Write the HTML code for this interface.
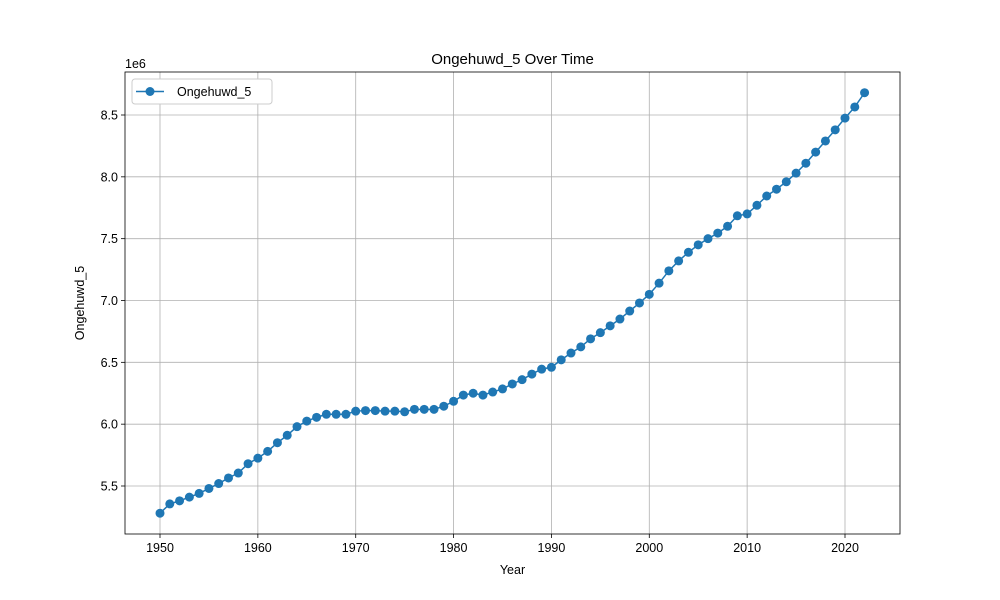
<!DOCTYPE html>
<html><head><meta charset="utf-8"><style>
html,body{margin:0;padding:0;background:#fff;}
svg{display:block;font-family:"Liberation Sans","DejaVu Sans",sans-serif;}
</style></head><body>
<svg id="chart" width="1000" height="600" viewBox="0 0 1000 600" xmlns="http://www.w3.org/2000/svg"></svg>
<script>
const years = [];
for (let y = 1950; y <= 2022; y++) years.push(y);
const values = [5.28,5.355,5.38,5.41,5.44,5.48,5.52,5.565,5.605,5.68,5.725,5.78,5.85,5.91,5.98,6.025,6.055,6.08,6.08,6.08,6.105,6.11,6.11,6.105,6.105,6.10,6.12,6.12,6.12,6.145,6.185,6.235,6.25,6.235,6.26,6.285,6.325,6.36,6.405,6.445,6.46,6.52,6.575,6.625,6.69,6.74,6.795,6.85,6.915,6.98,7.05,7.14,7.24,7.32,7.39,7.45,7.50,7.545,7.60,7.685,7.70,7.77,7.845,7.90,7.96,8.03,8.11,8.20,8.29,8.38,8.475,8.565,8.68];
const xTicks = [1950,1960,1970,1980,1990,2000,2010,2020];
const yTicks = [5.5,6.0,6.5,7.0,7.5,8.0,8.5];
const yTickLabels = ["5.5","6.0","6.5","7.0","7.5","8.0","8.5"];

const L=125,R=900,T=72,B=534;
const NS="http://www.w3.org/2000/svg";
const svg=document.getElementById('chart');
function xs(v){return 160+(v-1950)*(845-160)/70;}
function ys(v){return 486-(v-5.5)*(486-115)/3;}
function mk(tag,attrs,parent){const e=document.createElementNS(NS,tag);for(const k in attrs)e.setAttribute(k,attrs[k]);(parent||svg).appendChild(e);return e;}

const grid=mk('g',{});


xTicks.forEach(t=>{mk('line',{x1:xs(t),x2:xs(t),y1:T,y2:B,stroke:'#b0b0b0','stroke-width':0.8},grid);});
yTicks.forEach(t=>{mk('line',{x1:L,x2:R,y1:ys(t),y2:ys(t),stroke:'#b0b0b0','stroke-width':0.8},grid);});

const xa=mk('g',{});


xTicks.forEach(t=>{
  mk('line',{x1:xs(t),x2:xs(t),y1:B,y2:B+4,stroke:'#000','stroke-width':0.8},xa);
  const tx=mk('text',{x:xs(t),y:B+18,'text-anchor':'middle','font-size':12.5},xa);tx.textContent=t;
});
const ya=mk('g',{});


yTicks.forEach((t,i)=>{
  mk('line',{x1:L-4,x2:L,y1:ys(t),y2:ys(t),stroke:'#000','stroke-width':0.8},ya);
  const tx=mk('text',{x:L-7,y:ys(t)+4.5,'text-anchor':'end','font-size':12.5},ya);tx.textContent=yTickLabels[i];
});
const off=mk('text',{x:125,y:68,'font-size':12.5});off.textContent='1e6';



const line=mk('polyline',{points:years.map((y,i)=>xs(y)+','+ys(values[i])).join(' '),fill:'none',stroke:'#1f77b4','stroke-width':1.5});


years.forEach((y,i)=>{
  const c=mk('circle',{cx:xs(y),cy:ys(values[i]),r:4.5,fill:'#1f77b4'});
  
  
});

mk('rect',{x:L,y:T,width:R-L,height:B-T,fill:'none',stroke:'#000','stroke-width':0.8});

const title=mk('text',{x:512.5,y:64,'text-anchor':'middle','font-size':15});title.textContent='Ongehuwd_5 Over Time';


const xt=mk('text',{x:512.5,y:574,'text-anchor':'middle','font-size':12.5});xt.textContent='Year';


const yt=mk('text',{x:84,y:303,'text-anchor':'middle','font-size':12.5,transform:'rotate(-90 84 303)'});yt.textContent='Ongehuwd_5';



const lg=mk('g',{});


mk('rect',{x:132,y:79,width:140,height:25,rx:3,fill:'#fff',stroke:'#ccc','stroke-width':1},lg);
mk('line',{x1:136,x2:164,y1:91.5,y2:91.5,stroke:'#1f77b4','stroke-width':1.5},lg);
mk('circle',{cx:150,cy:91.5,r:4.5,fill:'#1f77b4'},lg);
const lt=mk('text',{x:177,y:96,'font-size':12.5},lg);lt.textContent='Ongehuwd_5';
</script>
</body></html>
